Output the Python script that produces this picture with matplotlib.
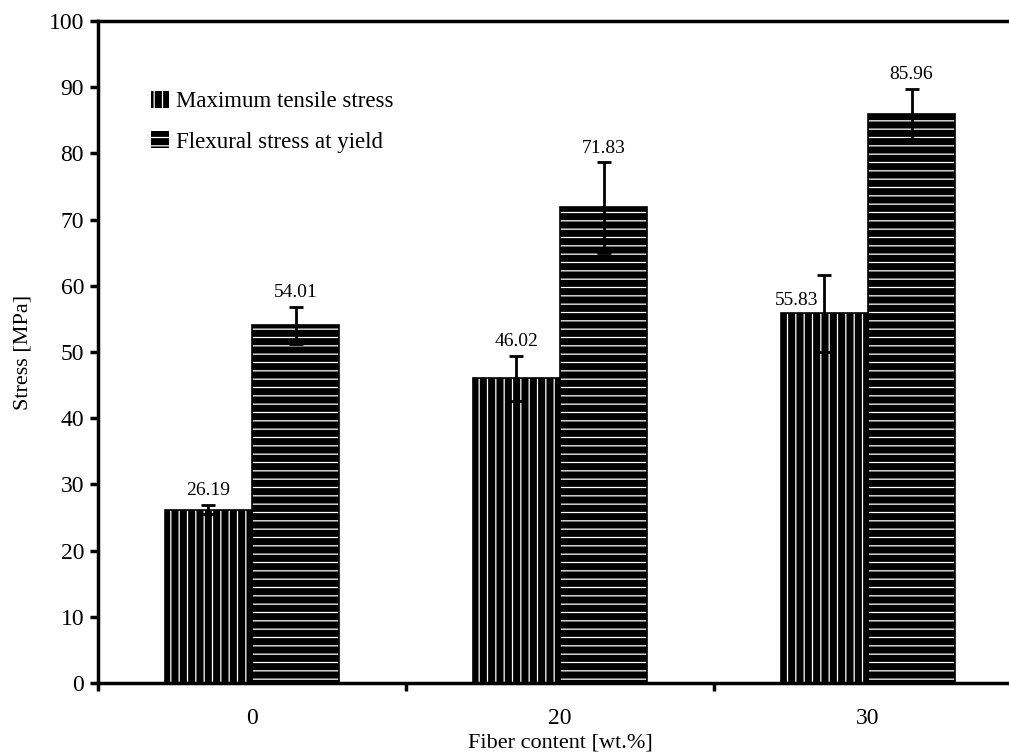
import matplotlib
matplotlib.use("Agg")
import matplotlib.pyplot as plt
import numpy as np

# data
fiber_content = ["0", "20", "30"]
tensile = [26.19, 46.02, 55.83]
tensile_err = [0.7, 3.4, 5.8]
flexural = [54.01, 71.83, 85.96]
flexural_err = [2.8, 6.8, 3.8]
y_ticks = list(range(0, 101, 10))

plt.rcParams["font.family"] = ["Liberation Serif", "DejaVu Serif"]
plt.rcParams["hatch.linewidth"] = 0.9

fig = plt.figure(figsize=(10.09, 7.53), dpi=100)
ax = fig.add_axes([98 / 1009, 1 - 683 / 753, (1022 - 98) / 1009, (683 - 21) / 753])

x = np.arange(len(fiber_content))
w = 0.2825

# black bars with white stripes, then a plain outline on top
ax.bar(x - w / 2, tensile, w, facecolor="black", edgecolor="white", hatch="||", lw=0,
       label="Maximum tensile stress", zorder=2)
ax.bar(x + w / 2, flexural, w, facecolor="black", edgecolor="white", hatch="--", lw=0,
       label="Flexural stress at yield", zorder=2)
ax.bar(x - w / 2, tensile, w, fill=False, edgecolor="black", lw=1.2, zorder=3)
ax.bar(x + w / 2, flexural, w, fill=False, edgecolor="black", lw=1.2, zorder=3)

ax.errorbar(x - w / 2, tensile, yerr=tensile_err, fmt="none", ecolor="black",
            elinewidth=2, capsize=5, capthick=2, zorder=4)
ax.errorbar(x + w / 2, flexural, yerr=flexural_err, fmt="none", ecolor="black",
            elinewidth=2, capsize=5, capthick=2, zorder=4)

# value labels
for i, (v, e) in enumerate(zip(tensile, tensile_err)):
    if i == 2:
        ax.annotate(f"{v:.2f}", (x[i] - w / 2 - 0.09, v + 0.6), ha="center", va="bottom",
                    fontsize=14)
    else:
        ax.annotate(f"{v:.2f}", (x[i] - w / 2, v + e), xytext=(0, 4),
                    textcoords="offset points", ha="center", va="bottom", fontsize=14)
for i, (v, e) in enumerate(zip(flexural, flexural_err)):
    ax.annotate(f"{v:.2f}", (x[i] + w / 2, v + e), xytext=(0, 4),
                textcoords="offset points", ha="center", va="bottom", fontsize=14)

ax.set_xlim(-0.5, 2.5)
ax.set_ylim(0, 100)
ax.set_yticks(y_ticks)
ax.set_xticks([-0.5, 0.5, 1.5, 2.5])
ax.set_xticklabels([])
ax.set_xticks(x, minor=True)
ax.set_xticklabels(fiber_content, minor=True)
ax.tick_params(axis="x", which="minor", length=0, pad=18, labelsize=17)
ax.tick_params(axis="x", which="major", direction="out", length=6, width=2.5)
ax.tick_params(axis="y", direction="out", length=6, width=2.5, labelsize=17, pad=4)

for s in ["left", "bottom", "top", "right"]:
    ax.spines[s].set_linewidth(2.5)

ax.set_ylabel("Stress [MPa]", fontsize=16, labelpad=12)
ax.set_xlabel("Fiber content [wt.%]", fontsize=16, labelpad=3)

ax.legend(loc="upper left", bbox_to_anchor=(0.05, 0.905), frameon=False, fontsize=16.5,
          handlelength=0.8, handleheight=0.8, handletextpad=0.3, labelspacing=0.8,
          borderaxespad=0, borderpad=0.3)

fig.savefig("out.png", dpi=100)
